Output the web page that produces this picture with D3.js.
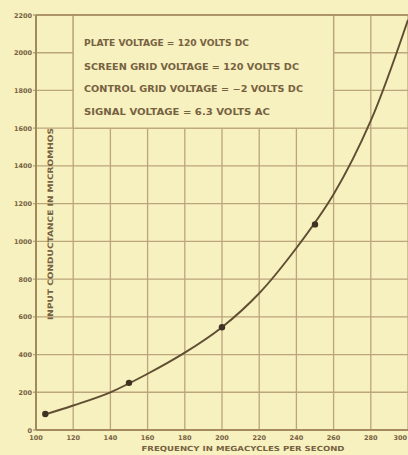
<!DOCTYPE html>
<html>
<head>
<meta charset="utf-8">
<script src="https://cdn.jsdelivr.net/npm/d3@7"></script>
<style>
  html, body { margin: 0; padding: 0; background: #f7f0bf; }
  svg { display: block; }
</style>
</head>
<body>
<script>
// Input conductance vs. frequency (pentode operating conditions in the inset)
const freqTicks = [100, 120, 140, 160, 180, 200, 220, 240, 260, 280, 300];
const condTicks = [0, 200, 400, 600, 800, 1000, 1200, 1400, 1600, 1800, 2000, 2200];

// measured points (dots)
const measuredFreq = [105, 150, 200, 250];
const measuredCond = [85, 250, 545, 1090];

// faired curve through the measurements
const curveFreq = [104, 120, 140, 160, 180, 200, 220, 240, 260, 280, 300];
const curveCond = [80, 130, 200, 298, 410, 545, 725, 965, 1250, 1640, 2175];

const conditionLines = [
  "PLATE VOLTAGE = 120 VOLTS DC",
  "SCREEN GRID VOLTAGE = 120 VOLTS DC",
  "CONTROL GRID VOLTAGE = \u22122 VOLTS DC",
  "SIGNAL VOLTAGE = 6.3 VOLTS AC"
];
const xTitle = "FREQUENCY IN MEGACYCLES PER SECOND";
const yTitle = "INPUT CONDUCTANCE IN MICROMHOS";

const W = 408, H = 455;
const bg = "#f7f0bf", gridCol = "#bba57a", inkCol = "#76623f", curveCol = "#5f4e33";
const font = "'DejaVu Sans', sans-serif";

const svg = d3.select("body").append("svg").attr("width", W).attr("height", H);
svg.append("rect").attr("width", W).attr("height", H).attr("fill", bg);

const x = d3.scaleLinear().domain([100, 300]).range([36, 408]);
const y = d3.scaleLinear().domain([0, 2200]).range([430, 15]);

// grid
const grid = svg.append("g").attr("stroke", gridCol).attr("stroke-width", 1.3);
grid.selectAll("line.v").data(freqTicks).join("line")
  .attr("x1", d => x(d)).attr("x2", d => x(d))
  .attr("y1", y(2200)).attr("y2", y(0));
grid.selectAll("line.h").data(condTicks).join("line")
  .attr("x1", x(100) - 3).attr("x2", x(300))
  .attr("y1", d => y(d)).attr("y2", d => y(d));

// inset box with operating conditions (covers grid between 120-260 Mc, 1600-2200)
svg.append("rect")
  .attr("x", x(120)).attr("y", y(2200))
  .attr("width", x(260) - x(120)).attr("height", y(1600) - y(2200))
  .attr("fill", bg).attr("stroke", gridCol).attr("stroke-width", 1.3);

// axes frame lines
svg.append("line").attr("x1", x(100)).attr("x2", x(100)).attr("y1", y(2200)).attr("y2", y(0))
  .attr("stroke", "#a08658").attr("stroke-width", 1.9);
svg.append("line").attr("x1", x(100)).attr("x2", x(300)).attr("y1", y(0)).attr("y2", y(0))
  .attr("stroke", "#a48a5e").attr("stroke-width", 1.8);
svg.append("line").attr("x1", x(100)).attr("x2", x(300)).attr("y1", y(2200)).attr("y2", y(2200))
  .attr("stroke", "#a48a5e").attr("stroke-width", 1.6);

// condition text
svg.append("g").selectAll("text").data(conditionLines).join("text")
  .attr("x", 84)
  .attr("y", (d, i) => [46, 70, 92, 115][i])
  .attr("textLength", (d, i) => [165, 215, 219, 186][i])
  .attr("lengthAdjust", "spacingAndGlyphs")
  .attr("font-family", font).attr("font-size", 8).attr("font-weight", "bold")
  .attr("fill", inkCol)
  .text(d => d);

// tick labels
svg.append("g").selectAll("text").data(condTicks).join("text")
  .attr("x", 32).attr("y", d => y(d) + 2.5)
  .attr("text-anchor", "end")
  .attr("font-family", font).attr("font-size", 6.5).attr("font-weight", "bold")
  .attr("fill", inkCol)
  .text(d => d);
svg.append("g").selectAll("text").data(freqTicks).join("text")
  .attr("x", d => d === 300 ? x(d) - 1 : x(d)).attr("y", 440)
  .attr("text-anchor", d => d === 300 ? "end" : "middle")
  .attr("font-family", font).attr("font-size", 6.5).attr("font-weight", "bold")
  .attr("fill", inkCol)
  .text(d => d);

// axis titles
svg.append("text")
  .attr("x", 243).attr("y", 451)
  .attr("text-anchor", "middle")
  .attr("textLength", 203).attr("lengthAdjust", "spacingAndGlyphs")
  .attr("font-family", font).attr("font-size", 7).attr("font-weight", "bold")
  .attr("fill", inkCol)
  .text(xTitle);
svg.append("text")
  .attr("transform", "translate(53,224) rotate(-90)")
  .attr("text-anchor", "middle")
  .attr("textLength", 192).attr("lengthAdjust", "spacingAndGlyphs")
  .attr("font-family", font).attr("font-size", 7.5).attr("font-weight", "bold")
  .attr("fill", inkCol)
  .text(yTitle);

// curve
const pts = curveFreq.map((f, i) => [f, curveCond[i]]);
svg.append("path")
  .datum(pts)
  .attr("fill", "none").attr("stroke", curveCol).attr("stroke-width", 1.9)
  .attr("d", d3.line().x(d => x(d[0])).y(d => y(d[1])).curve(d3.curveCatmullRom.alpha(0.5)));

// measured dots
svg.append("g").selectAll("circle").data(measuredFreq).join("circle")
  .attr("cx", d => x(d)).attr("cy", (d, i) => y(measuredCond[i]))
  .attr("r", 3.2).attr("fill", "#3e3222");
</script>
</body>
</html>
